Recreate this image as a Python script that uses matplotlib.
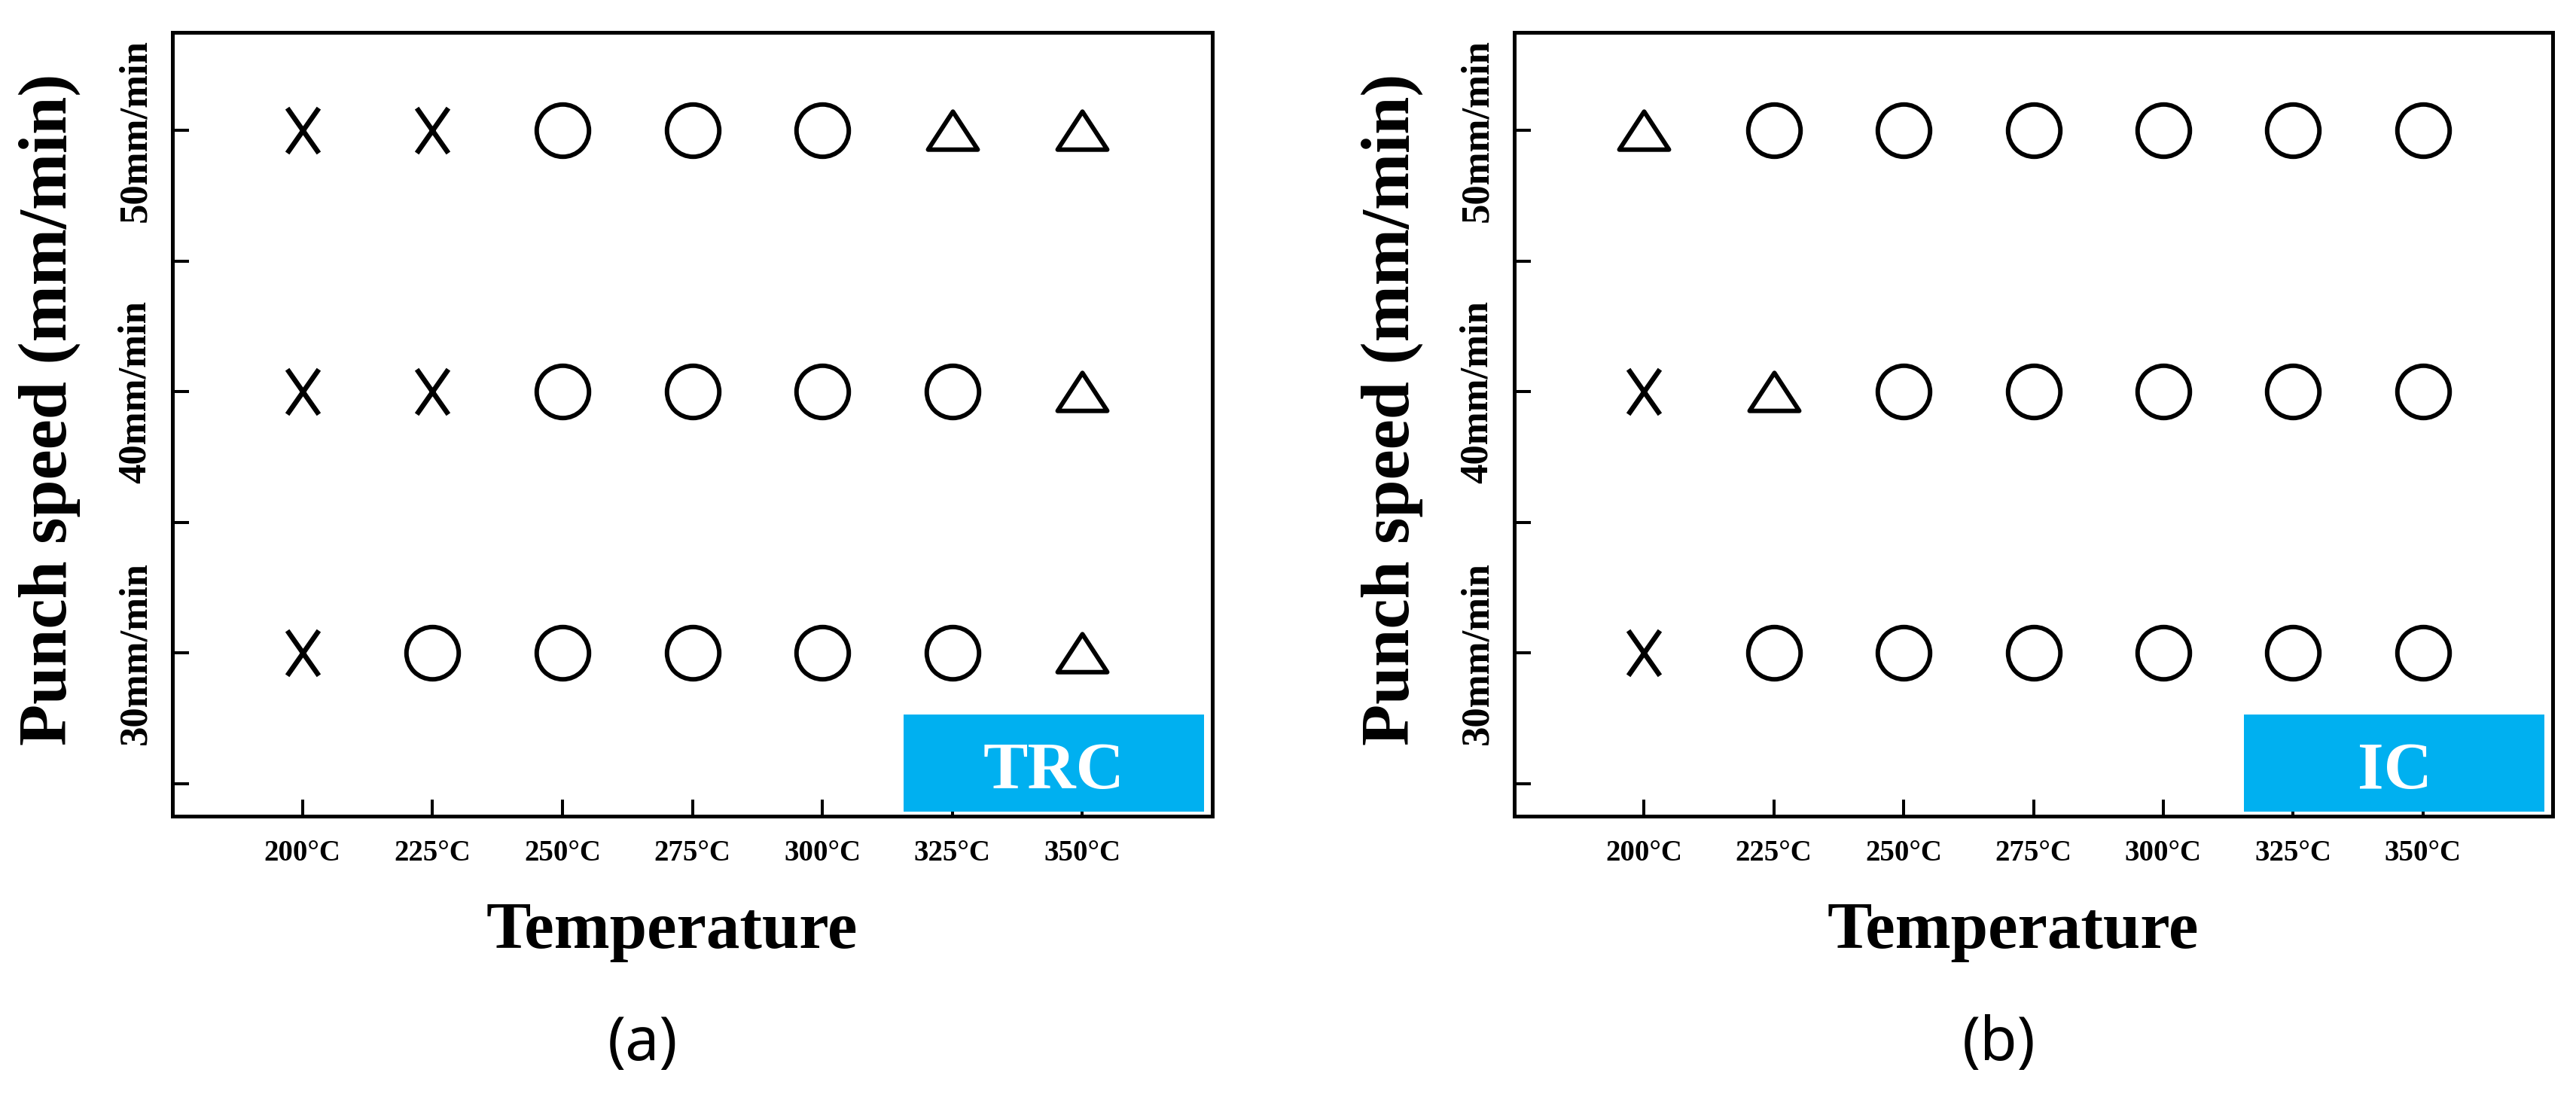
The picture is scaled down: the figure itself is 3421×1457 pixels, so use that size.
import matplotlib
matplotlib.use("Agg")
import matplotlib.pyplot as plt
from matplotlib.path import Path
from matplotlib.markers import MarkerStyle
from matplotlib.patches import Rectangle

# ---------------- data ----------------
temperatures = [200, 225, 250, 275, 300, 325, 350]
temp_labels = ["200°C", "225°C", "250°C", "275°C", "300°C", "325°C", "350°C"]
speeds = [30, 40, 50]
speed_ticks = [25, 30, 35, 40, 45, 50]
speed_labels = ["", "30mm/min", "", "40mm/min", "", "50mm/min"]

# X = fail, O = good, T = triangle (partial)
trc_30 = ["X", "O", "O", "O", "O", "O", "T"]
trc_40 = ["X", "X", "O", "O", "O", "O", "T"]
trc_50 = ["X", "X", "O", "O", "O", "T", "T"]

ic_30 = ["X", "O", "O", "O", "O", "O", "O"]
ic_40 = ["X", "T", "O", "O", "O", "O", "O"]
ic_50 = ["T", "O", "O", "O", "O", "O", "O"]

panel_names = ["TRC", "IC"]
panel_tags = ["(a)", "(b)"]
panel_rows = [[trc_30, trc_40, trc_50], [ic_30, ic_40, ic_50]]

# ---------------- styles ----------------
SERIF = "Liberation Serif"
BOX_COLOR = "#00B0F0"

tri_path = Path([(-0.5, -0.3825), (0.5, -0.3825), (0.0, 0.3825), (-0.5, -0.3825)],
                [Path.MOVETO, Path.LINETO, Path.LINETO, Path.CLOSEPOLY])
x_path = Path([(-0.35, -0.5), (0.35, 0.5), (-0.35, 0.5), (0.35, -0.5)],
              [Path.MOVETO, Path.LINETO, Path.MOVETO, Path.LINETO])

marker_styles = {
    "O": dict(marker="o", ms=50, mew=4.3),
    "T": dict(marker=MarkerStyle(tri_path, joinstyle="miter"), ms=47.5, mew=4.3),
    "X": dict(marker=MarkerStyle(x_path, capstyle="butt"), ms=43, mew=4.8),
}

W, H = 3421, 1457
fig = plt.figure(figsize=(W / 100, H / 100), dpi=100)

axes_rects = [
    [229 / W, (H - 1084) / H, 1381 / W, 1041 / H],
    [2011 / W, (H - 1084) / H, 1379 / W, 1041 / H],
]
tag_x = [853 / W, 2655 / W]

for i in range(2):
    ax = fig.add_axes(axes_rects[i])
    rows = panel_rows[i]
    for spd, row in zip(speeds, rows):
        for sym, st in marker_styles.items():
            xs = [t for t, r in zip(temperatures, row) if r == sym]
            if not xs:
                continue
            ax.plot(xs, [spd] * len(xs), linestyle="none", marker=st["marker"],
                    ms=st["ms"], mfc="none", mec="black", mew=st["mew"], zorder=3)

    ax.set_xlim(175, 375)
    ax.set_ylim(23.75, 53.75)
    ax.set_xticks(temperatures)
    ax.set_xticklabels(temp_labels, fontsize=28, fontweight="bold", family=SERIF)
    ax.set_yticks(speed_ticks)
    ax.set_yticklabels(speed_labels, fontsize=38, fontweight="bold", family=SERIF,
                       rotation=90, va="center")
    ax.tick_params(axis="both", direction="in", length=15.8, width=2.9,
                   top=False, right=False)
    ax.tick_params(axis="x", pad=22)
    ax.tick_params(axis="y", pad=18)
    for sp in ax.spines.values():
        sp.set_linewidth(3.6)

    ax.set_xlabel("Temperature", fontsize=64, fontweight="bold", family=SERIF,
                  va="baseline")
    ax.xaxis.set_label_coords(0.4804, -0.1681)
    ax.set_ylabel("Punch speed (mm/min)", fontsize=65, fontweight="bold",
                  family=SERIF, va="baseline")
    ax.yaxis.set_label_coords(-0.1021, 0.519)

    ax.add_patch(Rectangle((0.703, 0.006), 0.289, 0.124, transform=ax.transAxes,
                           facecolor=BOX_COLOR, edgecolor="none", zorder=3.5,
                           clip_on=False))
    ax.text(0.8478, 0.036, panel_names[i], transform=ax.transAxes, ha="center",
            va="baseline", color="white", fontsize=64, fontweight="bold",
            family=SERIF, zorder=4)

    fig.text(tag_x[i], 0.0336, panel_tags[i], ha="center", va="baseline",
             fontsize=58, family="Noto Sans")

fig.savefig("out.png", dpi=100)
